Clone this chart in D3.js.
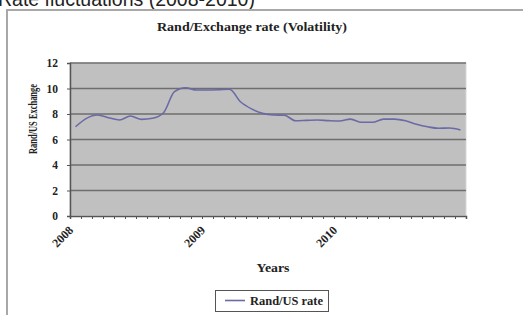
<!DOCTYPE html>
<html><head><meta charset="utf-8">
<script src="https://cdn.jsdelivr.net/npm/d3@7"></script>
<style>
html,body{margin:0;padding:0;background:#fff;overflow:hidden;}
svg{display:block;}
</style></head>
<body>
<script>
// ---- data ----
const years = ["2008", "2009", "2010"];
const monthsPerYear = 12;
const rates = [7.0, 7.66, 7.92, 7.71, 7.53, 7.84, 7.58, 7.66, 8.1, 9.75, 10.06, 9.88,
               9.88, 9.9, 9.94, 8.96, 8.4, 8.05, 7.92, 7.9, 7.47, 7.5, 7.53, 7.48,
               7.45, 7.6, 7.35, 7.35, 7.6, 7.6, 7.47, 7.2, 7.0, 6.88, 6.9, 6.75];
const yTicks = [0, 2, 4, 6, 8, 10, 12];
const seriesName = "Rand/US rate";

const W = 523, H = 315;
const svg = d3.select("body").append("svg").attr("width", W).attr("height", H);
const serif = "'Liberation Serif','Times New Roman',serif";

// page heading (partially cut off at top, as in the reference)
svg.append("text").attr("x", -2).attr("y", 6)
  .attr("font-family", "'Liberation Sans',Arial,sans-serif").attr("font-size", 19.5)
  .attr("fill", "#222").text("Rate fluctuations (2008-2010)");

// outer frame
svg.append("rect").attr("x", 7).attr("y", 10).attr("width", 530).attr("height", 320)
  .attr("fill", "#fff").attr("stroke", "#a8a8a8").attr("stroke-width", 2);

const m = {l: 70, r: 466, t: 63, b: 216};
const nMonths = years.length * monthsPerYear;
const x = d3.scaleLinear().domain([0, nMonths]).range([m.l, m.r]);
const y = d3.scaleLinear().domain([0, 12]).range([m.b, m.t]);

// plot background
svg.append("rect").attr("x", m.l).attr("y", m.t).attr("width", m.r - m.l).attr("height", m.b - m.t)
  .attr("fill", "#c0c0c0").attr("stroke", "#d8d8d8").attr("stroke-width", 1);

// gridlines
svg.append("g").selectAll("line").data(yTicks.filter(d => d > 0)).join("line")
  .attr("x1", m.l).attr("x2", m.r).attr("y1", d => y(d)).attr("y2", d => y(d))
  .attr("stroke", "#6e6e6e").attr("stroke-width", 1.6);

// y axis
const yAxis = svg.append("g").attr("transform", `translate(${m.l},0)`)
  .call(d3.axisLeft(y).tickValues(yTicks).tickSize(3).tickPadding(9).tickFormat(d3.format("d")));
yAxis.select(".domain").attr("stroke", "#555").attr("stroke-width", 1.5);
yAxis.selectAll(".tick line").attr("stroke", "#555");
yAxis.selectAll("text").attr("font-family", serif).attr("font-weight", "bold")
  .attr("font-size", 11.5).attr("fill", "#222");

// x axis minor ticks (monthly)
const xAxis = svg.append("g").attr("transform", `translate(0,${m.b})`)
  .call(d3.axisBottom(x).tickValues(d3.range(0, nMonths + 1)).tickSize(3).tickFormat(""));
xAxis.select(".domain").attr("stroke", "#555").attr("stroke-width", 1.5);
xAxis.selectAll(".tick line").attr("stroke", "#555");

// x year labels
svg.append("g").selectAll("text").data(years).join("text")
  .attr("transform", (d, i) => `translate(${x(i * monthsPerYear) + 4},${m.b + 15}) rotate(-45)`)
  .attr("text-anchor", "end")
  .attr("font-family", serif).attr("font-weight", "bold").attr("font-size", 12)
  .attr("fill", "#222").text(d => d);

// line
const line = d3.line().x((d, i) => x(i + 0.5)).y(d => y(d)).curve(d3.curveMonotoneX);
svg.append("path").datum(rates).attr("d", line)
  .attr("fill", "none").attr("stroke", "#6a6aa6").attr("stroke-width", 1.6);

// titles
svg.append("text").attr("x", 252).attr("y", 31).attr("text-anchor", "middle")
  .attr("font-family", serif).attr("font-weight", "bold").attr("font-size", 13)
  .attr("textLength", 190).attr("lengthAdjust", "spacingAndGlyphs")
  .attr("fill", "#222").text("Rand/Exchange rate (Volatility)");

svg.append("text").attr("transform", "translate(37,119) rotate(-90)").attr("text-anchor", "middle")
  .attr("font-family", serif).attr("font-weight", "bold").attr("font-size", 12)
  .attr("textLength", 70).attr("lengthAdjust", "spacingAndGlyphs")
  .attr("fill", "#222").text("Rand/US Exchange");

svg.append("text").attr("x", 273).attr("y", 272).attr("text-anchor", "middle")
  .attr("font-family", serif).attr("font-weight", "bold").attr("font-size", 12.5)
  .attr("textLength", 33).attr("lengthAdjust", "spacingAndGlyphs")
  .attr("fill", "#222").text("Years");

// legend
const lg = svg.append("g");
lg.append("rect").attr("x", 215.5).attr("y", 290.5).attr("width", 113).attr("height", 21)
  .attr("fill", "#fff").attr("stroke", "#555").attr("stroke-width", 1);
lg.append("line").attr("x1", 225).attr("x2", 245).attr("y1", 300.5).attr("y2", 300.5)
  .attr("stroke", "#6a6aa6").attr("stroke-width", 1.6);
lg.append("text").attr("x", 250).attr("y", 305)
  .attr("font-family", serif).attr("font-weight", "bold").attr("font-size", 11.5)
  .attr("textLength", 73).attr("lengthAdjust", "spacingAndGlyphs")
  .attr("fill", "#222").text(seriesName);
</script>
</body></html>
